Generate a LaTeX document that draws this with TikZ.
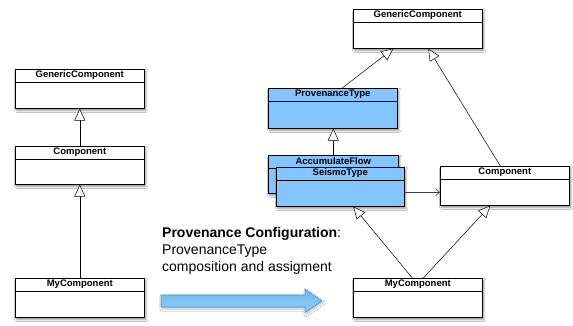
\documentclass[tikz,border=0pt]{standalone}
\usepackage{fontspec}
\setmainfont{Liberation Sans}
\usetikzlibrary{arrows.meta,calc,shadows.blur}
\definecolor{clsblue}{HTML}{84C5FF}
\definecolor{arrtop}{HTML}{6BB8EC}
\definecolor{arrbot}{HTML}{92CEF4}
\definecolor{arrline}{HTML}{3D9AD6}
\tikzset{
  clsbox/.style={draw=black, line width=0.6pt, rectangle, inner sep=0pt,
    blur shadow={shadow xshift=1.5pt, shadow yshift=-2pt, shadow blur steps=5, shadow opacity=45}},
  clstitle/.style={font=\fontsize{9.5}{11}\selectfont\bfseries, inner sep=0pt},
  inherit/.style={draw=black, line width=0.5pt, -{Triangle[open, length=12pt, width=11pt, fill=white]}},
  assoc/.style={draw=black!75, line width=0.6pt, -{Straight Barb[length=4pt, width=7pt]}},
  bigarrow/.style={draw=arrline, line width=0.6pt, top color=arrtop, bottom color=arrbot,
    blur shadow={shadow xshift=1pt, shadow yshift=-2pt, shadow blur steps=5, shadow opacity=25}},
  infotext/.style={font=\fontsize{14}{17}\selectfont, align=left, inner sep=0pt, anchor=north west}
}
\newcommand\umlbox[7]{%
  \node[clsbox, fill=#7, minimum width=#4pt, minimum height=#5pt, anchor=north west] (#1) at (#2,#3) {};
  \draw[line width=0.6pt] ([yshift=-13pt]#1.north west) -- ([yshift=-13pt]#1.north east);
  \node[clstitle] (#1-t) at ([yshift=-6.5pt]#1.north) {#6};
}
\begin{document}
\begin{tikzpicture}[x=1pt,y=-1pt]
\useasboundingbox[fill=white] (0,0) rectangle (573,325);
% left column
\umlbox{lg}{15}{69}{129}{39}{GenericComponent}{white}
\umlbox{lc}{15}{146}{129}{38}{Component}{white}
\umlbox{lm}{15}{278}{129}{39}{MyComponent}{white}
\draw[inherit] (lm.north) -- (lc.south);
\draw[inherit] (lc.north) -- (lg.south);
% right column
\umlbox{rg}{353}{9}{129}{39}{GenericComponent}{white}
\umlbox{pt}{268}{88}{129}{40}{ProvenanceType}{clsblue}
\umlbox{af}{268}{155}{130}{38}{AccumulateFlow}{clsblue}
\umlbox{sm}{276}{167}{128}{39}{SeismoType}{clsblue}
\umlbox{rc}{440}{166}{129}{39}{Component}{white}
\umlbox{rm}{353}{278}{129}{39}{MyComponent}{white}
\draw[inherit] ([xshift=9.5pt]pt.north) -- ([xshift=-24.5pt]rg.south);
\draw[inherit] ([xshift=-4.5pt]rc.north) -- ([xshift=10.5pt]rg.south);
\draw[inherit] (af.north) -- (af.north |- pt.south);
\draw[assoc] ([yshift=-5.5pt]sm.east) -- ([yshift=-5.5pt]sm.east -| rc.west);
\draw[inherit] ([xshift=-5.5pt]rm.north) -- ([xshift=13pt]sm.south);
\draw[inherit] ([xshift=5.5pt]rm.north) -- ([xshift=-14.5pt]rc.south);
% text
\node[infotext] (info) at (162,227.5) {\textbf{Provenance Configuration}:\\ProvenanceType\\composition and assigment};
% big arrow
\path[bigarrow] (161,295) -- (305,295) -- (305,289) -- (322,301) -- (305,312.5) -- (305,307) -- (161,307) -- cycle;
\end{tikzpicture}
\end{document}
